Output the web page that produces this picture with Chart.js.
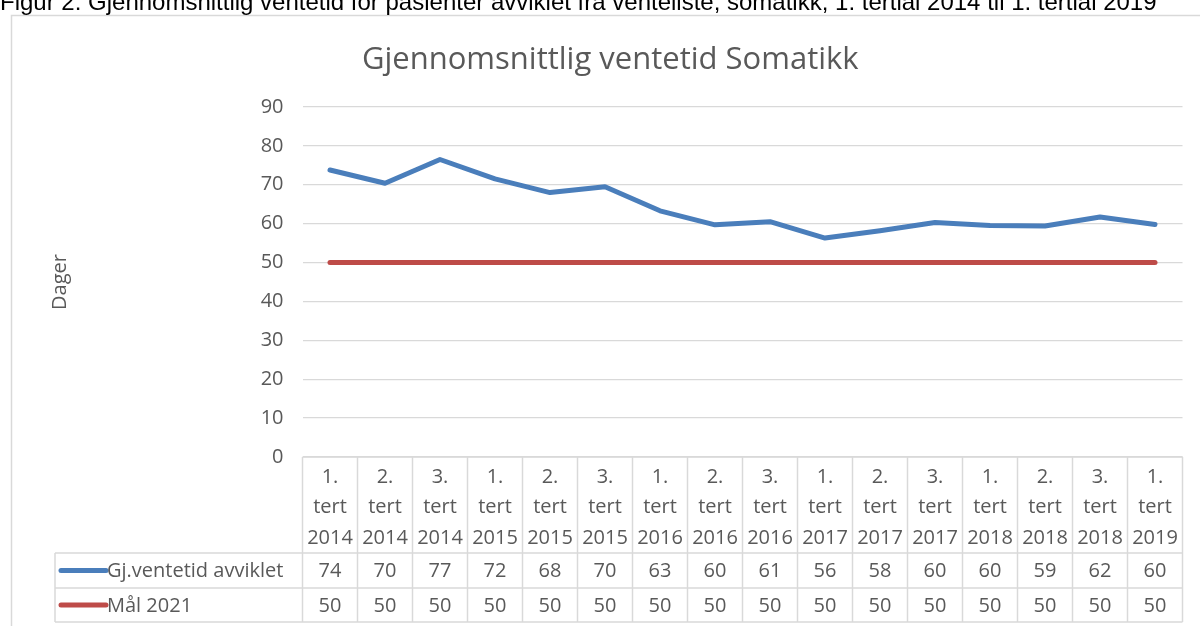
<!DOCTYPE html>
<html>
<head>
<meta charset="utf-8">
<script src="https://cdn.jsdelivr.net/npm/chart.js@4.4.1/dist/chart.umd.min.js"></script>
<style>
  body { margin: 0; background: #fff; }
  #wrap { position: relative; width: 1200px; height: 626px; overflow: hidden; }
  #caption { position: absolute; left: 0; top: -12px; font-family: "Liberation Sans", Arial, sans-serif; font-size: 24px; color: #000; white-space: nowrap; }
  canvas { position: absolute; left: 0; top: 0; }
</style>
</head>
<body>
<div id="wrap">
  <canvas id="grafica" width="1200" height="626"></canvas>
  <div id="caption">Figur 2: Gjennomsnittlig ventetid for pasienter avviklet fra venteliste, somatikk, 1. tertial 2014 til 1. tertial 2019</div>
</div>
<script>
var perioder = [
    ["1.", "tert", "2014"], ["2.", "tert", "2014"], ["3.", "tert", "2014"],
    ["1.", "tert", "2015"], ["2.", "tert", "2015"], ["3.", "tert", "2015"],
    ["1.", "tert", "2016"], ["2.", "tert", "2016"], ["3.", "tert", "2016"],
    ["1.", "tert", "2017"], ["2.", "tert", "2017"], ["3.", "tert", "2017"],
    ["1.", "tert", "2018"], ["2.", "tert", "2018"], ["3.", "tert", "2018"],
    ["1.", "tert", "2019"]
];
var ventetid = [73.8, 70.4, 76.5, 71.5, 68.0, 69.5, 63.3, 59.7, 60.5, 56.3, 58.2, 60.3, 59.5, 59.4, 61.7, 59.8];
var maal = [50, 50, 50, 50, 50, 50, 50, 50, 50, 50, 50, 50, 50, 50, 50, 50];
var yTicks = [0, 10, 20, 30, 40, 50, 60, 70, 80, 90];

var blaa = "#4a7ebb";
var roed = "#be4b48";
var tekst = "#595959";
var linje = "#d9d9d9";
var font = "'Open Sans', 'Noto Sans', sans-serif";

// frame and data table under the plot, columns taken from the x scale
var tabellPlugin = {
    id: "tabell",
    beforeDraw: function (chart) {
        var ctx = chart.ctx;
        ctx.save();
        ctx.strokeStyle = linje;
        ctx.lineWidth = 1.5;
        ctx.strokeRect(11.5, 15.5, 1200, 640);
        ctx.restore();
    },
    afterDraw: function (chart) {
        var ctx = chart.ctx;
        var x = chart.scales.x;
        var area = chart.chartArea;
        var steg = x.getPixelForValue(1) - x.getPixelForValue(0);
        var topp = area.bottom, hodeBunn = 553, rad1 = 588, rad2 = 622, legendVenstre = 55;
        var serier = [
            { navn: "Gj.ventetid avviklet", data: ventetid, farge: blaa },
            { navn: "Mål 2021", data: maal, farge: roed }
        ];

        ctx.save();
        ctx.strokeStyle = linje;
        ctx.lineWidth = 1.5;
        ctx.beginPath();
        ctx.moveTo(area.left, topp); ctx.lineTo(area.right, topp);
        ctx.moveTo(legendVenstre, hodeBunn); ctx.lineTo(area.right, hodeBunn);
        ctx.moveTo(legendVenstre, rad1); ctx.lineTo(area.right, rad1);
        ctx.moveTo(legendVenstre, rad2); ctx.lineTo(area.right, rad2);
        ctx.moveTo(legendVenstre, hodeBunn); ctx.lineTo(legendVenstre, rad2);
        for (var i = 0; i <= perioder.length; i++) {
            var gx = x.getPixelForValue(i) - steg / 2;
            ctx.moveTo(gx, topp); ctx.lineTo(gx, rad2);
        }
        ctx.stroke();

        ctx.fillStyle = tekst;
        ctx.font = "20px " + font;
        ctx.textAlign = "center";
        ctx.textBaseline = "middle";
        for (var j = 0; j < perioder.length; j++) {
            var cx = x.getPixelForValue(j);
            for (var k = 0; k < perioder[j].length; k++) {
                ctx.fillText(perioder[j][k], cx, 477 + k * 30.5);
            }
            ctx.fillText(Math.round(serier[0].data[j]), cx, (hodeBunn + rad1) / 2 + 1);
            ctx.fillText(Math.round(serier[1].data[j]), cx, (rad1 + rad2) / 2 + 1);
        }

        var radMidt = [(hodeBunn + rad1) / 2, (rad1 + rad2) / 2];
        for (var s = 0; s < serier.length; s++) {
            ctx.strokeStyle = serier[s].farge;
            ctx.lineWidth = 5;
            ctx.lineCap = "round";
            ctx.beginPath();
            ctx.moveTo(61, radMidt[s]);
            ctx.lineTo(106, radMidt[s]);
            ctx.stroke();
            ctx.fillStyle = tekst;
            ctx.textAlign = "left";
            ctx.fillText(serier[s].navn, 107, radMidt[s] + 1);
        }
        ctx.restore();
    }
};

new Chart(document.getElementById("grafica"), {
    type: "line",
    data: {
        labels: perioder,
        datasets: [
            { label: "Gj.ventetid avviklet", data: ventetid, borderColor: blaa, backgroundColor: blaa,
              borderWidth: 5, pointRadius: 0, borderCapStyle: "round", borderJoinStyle: "round", tension: 0 },
            { label: "Mål 2021", data: maal, borderColor: roed, backgroundColor: roed,
              borderWidth: 5, pointRadius: 0, borderCapStyle: "round", borderJoinStyle: "round", tension: 0 }
        ]
    },
    options: {
        responsive: false,
        animation: false,
        devicePixelRatio: 1,
        layout: { padding: { left: 38, top: 0, right: 17.5, bottom: 169 } },
        plugins: {
            legend: { display: false },
            tooltip: { enabled: false },
            title: {
                display: true,
                text: "Gjennomsnittlig ventetid Somatikk",
                color: tekst,
                font: { family: font, size: 31, weight: "normal", lineHeight: 1.2 },
                padding: { top: 41.4, bottom: 28.4 }
            }
        },
        scales: {
            x: {
                display: false,
                offset: true
            },
            y: {
                min: 0,
                max: 90,
                afterFit: function (scale) { scale.width = 302.5 - 38; },
                afterBuildTicks: function (scale) { scale.ticks = yTicks.map(function (v) { return { value: v }; }); },
                grid: { color: linje, lineWidth: 1.3, drawTicks: false },
                border: { display: false },
                ticks: { color: tekst, font: { family: font, size: 20 }, padding: 19 },
                title: { display: true, text: "Dager", color: tekst, font: { family: font, size: 20 }, padding: { top: 10 } }
            }
        }
    },
    plugins: [tabellPlugin]
});
</script>
</body>
</html>
